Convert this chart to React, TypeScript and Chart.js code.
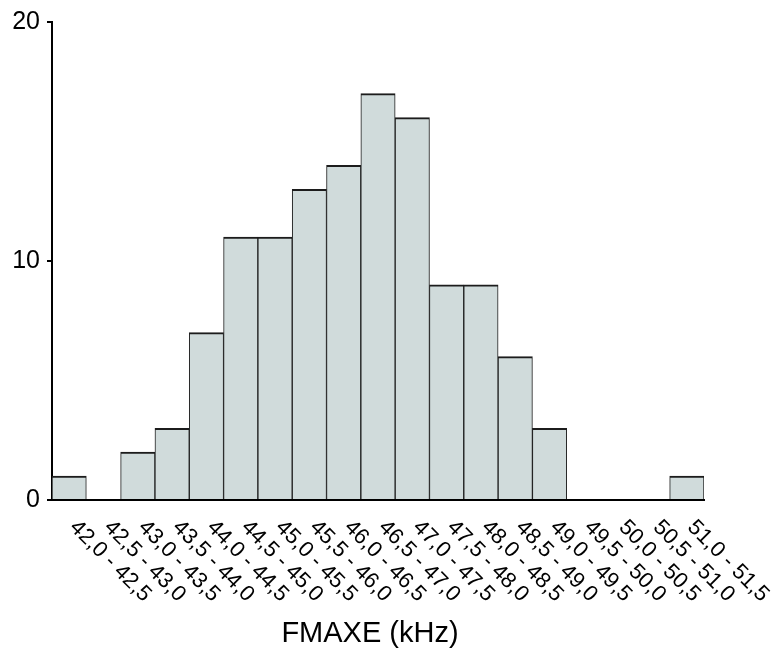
import React, { useEffect, useRef } from "react";
import { Chart, registerables } from "chart.js";

Chart.register(...registerables);

const categories: string[] = [
  "42,0 - 42,5", "42,5 - 43,0", "43,0 - 43,5", "43,5 - 44,0", "44,0 - 44,5",
  "44,5 - 45,0", "45,0 - 45,5", "45,5 - 46,0", "46,0 - 46,5", "46,5 - 47,0",
  "47,0 - 47,5", "47,5 - 48,0", "48,0 - 48,5", "48,5 - 49,0", "49,0 - 49,5",
  "49,5 - 50,0", "50,0 - 50,5", "50,5 - 51,0", "51,0 - 51,5",
];
const counts: number[] = [1, 0, 2, 3, 7, 11, 11, 13, 14, 17, 16, 9, 9, 6, 3, 0, 0, 0, 1];
const yTicks: number[] = [0, 10, 20];
const xTitle = "FMAXE (kHz)";

const FAMILY = "'Liberation Sans', Arial, Helvetica, sans-serif";

const labelPlugin = {
  id: "slantedLabels",
  afterDraw(chart: any) {
    const ctx = chart.ctx as CanvasRenderingContext2D;
    const xs = chart.scales.x;
    const area = chart.chartArea;
    ctx.save();
    ctx.fillStyle = "#000";
    ctx.font = `22px ${FAMILY}`;
    ctx.textAlign = "left";
    ctx.textBaseline = "middle";
    categories.forEach((lab, i) => {
      const px = xs.getPixelForValue(i);
      ctx.save();
      ctx.translate(px + 4, xs.top + 24);
      ctx.rotate(Math.PI / 4);
      ctx.fillText(lab, 0, 0);
      ctx.restore();
    });
    ctx.font = `29px ${FAMILY}`;
    ctx.textAlign = "center";
    ctx.fillText(xTitle, (area.left + area.right) / 2 - 8, xs.bottom - 19);
    ctx.restore();
  },
};

export default function App() {
  const ref = useRef<HTMLCanvasElement>(null);
  useEffect(() => {
    document.body.style.margin = "0";
    const chart = new Chart(ref.current!, {
      type: "bar",
      data: {
        labels: categories,
        datasets: [
          {
            data: counts,
            backgroundColor: "#d0dbdb",
            borderColor: "#1c1c1c",
            borderWidth: { top: 2, left: 1, right: 1, bottom: 0 },
            borderSkipped: false,
            categoryPercentage: 1,
            barPercentage: 1,
          },
        ],
      },
      options: {
        responsive: false,
        animation: false,
        devicePixelRatio: 1,
        layout: { padding: { top: 19, right: 72, left: 0, bottom: 0 } },
        plugins: { legend: { display: false }, tooltip: { enabled: false }, title: { display: false } },
        scales: {
          x: {
            z: 1,
            grid: { display: false, drawTicks: false },
            ticks: { display: false },
            border: { display: true, color: "#000", width: 2 },
            afterFit: (s: any) => {
              s.height = 153;
            },
          },
          y: {
            z: 1,
            min: 0,
            max: 20,
            afterBuildTicks: (s: any) => {
              s.ticks = yTicks.map((v) => ({ value: v }));
            },
            ticks: { color: "#000", font: { size: 25, family: FAMILY }, padding: 7 },
            grid: { display: true, drawOnChartArea: false, drawTicks: true, tickLength: 5, color: "#000", lineWidth: 2 },
            border: { display: true, color: "#000", width: 2 },
            afterFit: (s: any) => {
              s.width = 52;
            },
          },
        },
      },
      plugins: [labelPlugin],
    });
    return () => chart.destroy();
  }, []);
  return <canvas ref={ref} width={776} height={653} style={{ display: "block" }} />;
}
